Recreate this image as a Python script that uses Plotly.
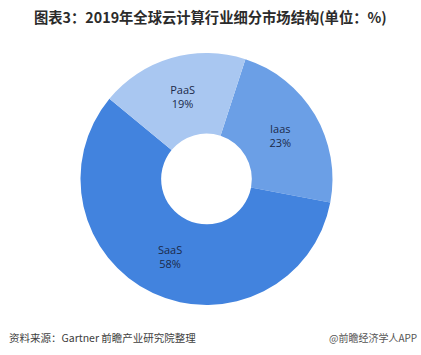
import plotly.graph_objects as go

labels = ["Iaas", "SaaS", "PaaS"]
values = [23, 58, 19]
colors = ["#6B9FE6", "#4283DE", "#A9C7F1"]

title_text = "图表3：2019年全球云计算行业细分市场结构(单位：%)"
source_text = "资料来源：Gartner 前瞻产业研究院整理"
brand_text = "@前瞻经济学人APP"

W, H = 421, 355
cx, cy, r = 206.5, 179, 126

fig = go.Figure(go.Pie(
    labels=labels,
    values=values,
    hole=0.36,
    sort=False,
    direction="clockwise",
    rotation=18,
    marker=dict(colors=colors, line=dict(width=0)),
    texttemplate="%{label}<br>%{value}%",
    textposition="inside",
    insidetextorientation="horizontal",
    textfont=dict(family="Open Sans, Noto Sans CJK SC", size=11, color="#1B2A4A"),
    showlegend=False,
    hoverinfo="skip",
    domain=dict(x=[(cx - r) / W, (cx + r) / W], y=[1 - (cy + r) / H, 1 - (cy - r) / H]),
))

fig.update_layout(
    width=W, height=H,
    margin=dict(l=0, r=0, t=0, b=0),
    paper_bgcolor="white",
    plot_bgcolor="white",
    annotations=[
        dict(text="<b>" + title_text + "</b>", x=0.5, y=1 - 16 / H, xref="paper", yref="paper",
             xanchor="center", yanchor="middle", showarrow=False,
             font=dict(family="Noto Sans CJK SC", size=14.3, color="#2b2b2b")),
        dict(text=source_text, x=7 / W, y=1 - 337 / H, xref="paper", yref="paper",
             xanchor="left", yanchor="middle", showarrow=False,
             font=dict(family="Noto Sans CJK SC", size=10.5, color="#404040")),
        dict(text=brand_text, x=1 - 2 / W, y=1 - 337 / H, xref="paper", yref="paper",
             xanchor="right", yanchor="middle", showarrow=False,
             font=dict(family="Noto Sans CJK SC", size=10, color="#555555")),
    ],
)

fig.write_html("out.html")
